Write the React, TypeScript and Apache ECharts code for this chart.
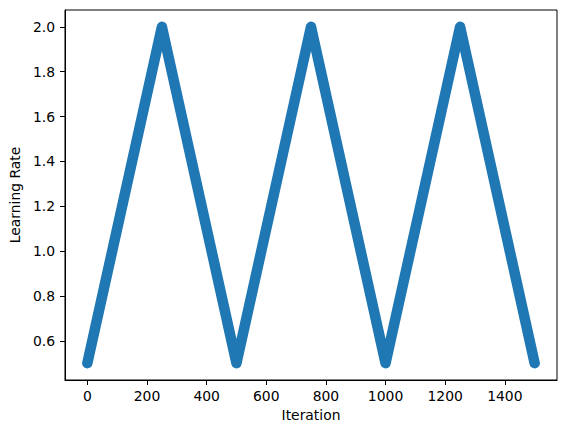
import React, { useEffect, useRef } from "react";
import * as echarts from "echarts";

const iterations = [0, 250, 500, 750, 1000, 1250, 1500];
const learningRates = [0.5, 2.0, 0.5, 2.0, 0.5, 2.0, 0.5];
const xTicks = [0, 200, 400, 600, 800, 1000, 1200, 1400];
const yTicks = [0.6, 0.8, 1.0, 1.2, 1.4, 1.6, 1.8, 2.0];

const FONT = "DejaVu Sans";

export default function App() {
  const ref = useRef<HTMLDivElement>(null);
  useEffect(() => {
    if (!ref.current) return;
    const chart = echarts.init(ref.current, null, { renderer: "svg" });
    const data = iterations.map((x, i) => [x, learningRates[i]]);
    chart.setOption({
      animation: false,
      backgroundColor: "#ffffff",
      grid: {
        left: 62,
        right: 10,
        top: 10,
        bottom: 52,
        show: true,
        borderColor: "#000000",
        borderWidth: 1,
        backgroundColor: "transparent",
      },
      xAxis: {
        type: "value",
        position: "bottom",
        min: -75,
        max: 1575,
        name: "Iteration",
        nameLocation: "middle",
        nameGap: 27,
        nameTextStyle: { fontFamily: FONT, fontSize: 13.9, color: "#000" },
        splitLine: { show: false },
        axisLine: { show: true, onZero: false, lineStyle: { color: "#000", width: 1 } },
        axisTick: {
          show: true,
          length: 5,
          lineStyle: { color: "#000", width: 1 },
          customValues: xTicks,
        },
        axisLabel: {
          fontFamily: FONT,
          fontSize: 13.9,
          color: "#000",
          margin: 9,
          customValues: xTicks,
          formatter: (v: number) => String(v),
        },
      },
      yAxis: {
        type: "value",
        position: "left",
        min: 0.425,
        max: 2.075,
        name: "Learning Rate",
        nameLocation: "middle",
        nameGap: 40,
        nameTextStyle: { fontFamily: FONT, fontSize: 13.9, color: "#000" },
        splitLine: { show: false },
        axisLine: { show: true, onZero: false, lineStyle: { color: "#000", width: 1 } },
        axisTick: {
          show: true,
          length: 5,
          lineStyle: { color: "#000", width: 1 },
          customValues: yTicks,
        },
        axisLabel: {
          fontFamily: FONT,
          fontSize: 13.9,
          color: "#000",
          margin: 10,
          customValues: yTicks,
          formatter: (v: number) => v.toFixed(1),
        },
      },
      series: [
        {
          type: "line",
          data,
          showSymbol: false,
          symbol: "none",
          lineStyle: { color: "#1f77b4", width: 10.5, cap: "round", join: "round" },
        },
      ],
    });
    return () => chart.dispose();
  }, []);
  return <div ref={ref} style={{ width: 567, height: 432, marginLeft: -8, marginTop: -8 }} />;
}
